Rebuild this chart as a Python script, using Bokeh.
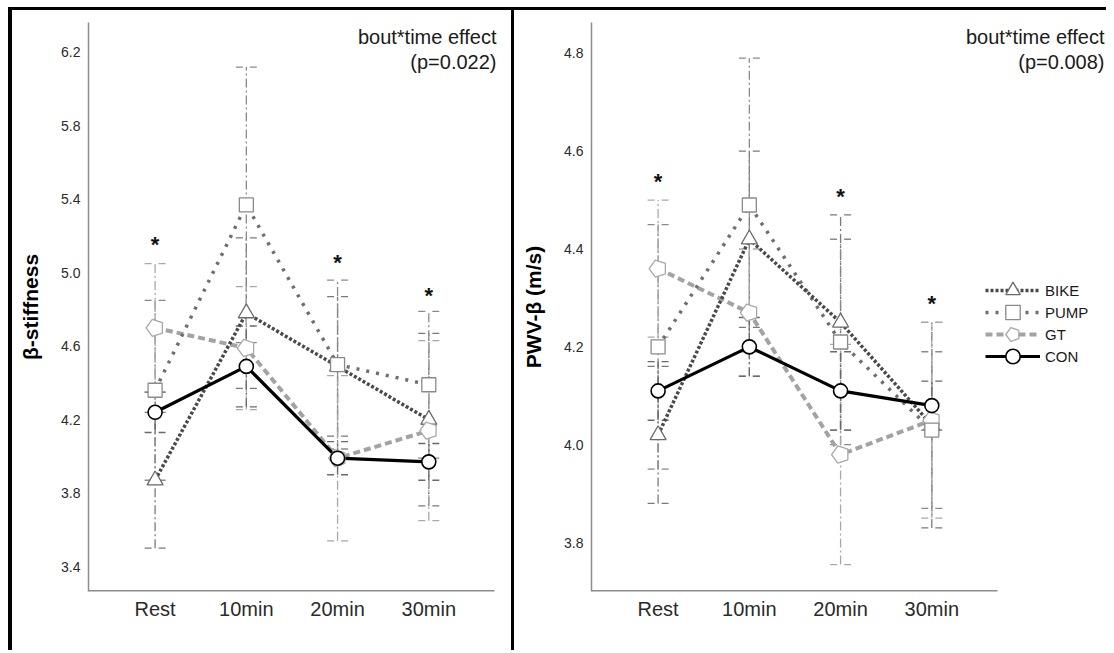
from bokeh.plotting import figure
from bokeh.models import (Range1d, FixedTicker, PrintfTickFormatter, Legend, LegendItem,
                          Label, ColumnDataSource, Ngon)
from bokeh.layouts import row
from bokeh.embed import file_html
from bokeh.resources import INLINE
from bokeh.core.properties import value

# ---------------- data ----------------
times = ["Rest", "10min", "20min", "30min"]
groups = ["BIKE", "PUMP", "GT", "CON"]

# beta-stiffness (means and error half-widths)
stiff_bike = [3.87, 4.78, 4.49, 4.20]
stiff_pump = [4.36, 5.37, 4.50, 4.39]
stiff_gt = [4.70, 4.59, 3.99, 4.14]
stiff_con = [4.24, 4.49, 3.99, 3.97]
stiff_bike_err = [0.37, 0.41, 0.38, 0.47]
stiff_pump_err = [0.49, 0.75, 0.46, 0.40]
stiff_gt_err = [0.35, 0.335, 0.45, 0.49]
stiff_con_err = [0.11, 0.22, 0.09, 0.10]
stiff_star = [5.16, None, 5.06, 4.88]
stiff_ticks = [3.4, 3.8, 4.2, 4.6, 5.0, 5.4, 5.8, 6.2]

# PWV-beta (m/s)
pwv_bike = [4.02, 4.42, 4.25, 4.04]
pwv_pump = [4.20, 4.49, 4.21, 4.03]
pwv_gt = [4.36, 4.27, 3.98, 4.05]
pwv_con = [4.11, 4.20, 4.11, 4.08]
pwv_bike_err = [0.14, 0.18, 0.22, 0.21]
pwv_pump_err = [0.25, 0.30, 0.21, 0.16]
pwv_gt_err = [0.14, 0.13, 0.225, 0.20]
pwv_con_err = [0.06, 0.06, 0.08, 0.05]
pwv_star = [4.54, None, 4.51, 4.29]
pwv_ticks = [3.8, 4.0, 4.2, 4.4, 4.6, 4.8]

FONT = "Liberation Sans"

STYLE = {
    "BIKE": dict(color="#4a4a4a", dash="3 2", width=3.5, marker="triangle", mcolor="#6a6a6a", msize=16, ecolor="#7a7a7a"),
    "PUMP": dict(color="#6e6e6e", dash="3 7", width=3.5, marker="square", mcolor="#8a8a8a", msize=14, ecolor="#8a8a8a"),
    "GT": dict(color="#a3a3a3", dash="7 4", width=4, marker="pentagon", mcolor="#a8a8a8", msize=9, ecolor="#a8a8a8"),
    "CON": dict(color="#000000", dash="solid", width=3.2, marker="circle", mcolor="#000000", msize=14, ecolor="#6a6a6a"),
}

X0, XAX = -0.73, 3.72      # x range start and end of the drawn x-axis line
AXIS_W = 406               # pixel length of the drawn x-axis
FIG_H = 640
LEGEND_ROW_PITCH = 22
LEGEND_BOTTOM = 283        # screen offset (from frame bottom) of the first legend row box


def make_panel(series, errs, stars, ticks, yr, ylabel, pval, width, bl, legend, txt_x, margin):
    frame_w = width - bl
    x_end = X0 + frame_w * (XAX - X0) / AXIS_W
    p = figure(width=width, height=FIG_H, output_backend="svg", toolbar_location=None,
               x_range=Range1d(X0, x_end), y_range=Range1d(*yr),
               min_border_left=bl, min_border_right=0, min_border_top=12,
               min_border_bottom=FIG_H - 12 - 569, margin=margin)
    p.outline_line_color = None
    p.xgrid.visible = False
    p.ygrid.visible = False
    p.background_fill_color = "white"
    p.border_fill_color = "white"

    xs = list(range(len(times)))
    cap = 0.115

    # x-axis line drawn only up to the last category area
    p.segment(x0=[X0], y0=[yr[0]], x1=[XAX], y1=[yr[0]], line_color="#8c8c8c", line_width=3)

    # error bars
    for g in groups:
        st = STYLE[g]
        m = series[g]
        e = errs[g]
        lo = [a - b for a, b in zip(m, e)]
        hi = [a + b for a, b in zip(m, e)]
        p.segment(x0=xs, y0=lo, x1=xs, y1=hi, line_color=st["ecolor"], line_width=1.3,
                  line_dash="9 3 2 3")
        for yy in (lo, hi):
            p.segment(x0=[x - cap for x in xs], y0=yy, x1=[x + cap for x in xs], y1=yy,
                      line_color=st["ecolor"], line_width=1.3, line_dash="7 7")

    lines = {}
    for g in ["GT", "PUMP", "BIKE", "CON"]:
        st = STYLE[g]
        lines[g] = p.line(xs, series[g], line_color=st["color"], line_width=st["width"],
                          line_dash=st["dash"])
    marks = {}
    for g in ["BIKE", "GT", "PUMP", "CON"]:
        st = STYLE[g]
        if st["marker"] == "pentagon":
            src = ColumnDataSource(dict(x=xs, y=series[g]))
            marks[g] = p.add_glyph(src, Ngon(x="x", y="y", radius=st["msize"], radius_units="screen",
                                             n=5, angle=1.5708, fill_color="white",
                                             line_color=st["mcolor"], line_width=1.3))
        else:
            marks[g] = p.scatter(xs, series[g], marker=st["marker"], size=st["msize"],
                                 fill_color="white", line_color=st["mcolor"],
                                 line_width=1.6 if g == "CON" else 1.3)

    sx = [i for i, s in enumerate(stars) if s is not None]
    sy = [s for s in stars if s is not None]
    p.text(sx, sy, text=["*"] * len(sx), text_font=value(FONT), text_font_size="22px",
           text_font_style="bold", text_align="center", text_baseline="middle", y_offset=1,
           text_color="#111111")

    # axes
    p.xaxis.ticker = FixedTicker(ticks=xs)
    p.xaxis.major_label_overrides = {i: t for i, t in enumerate(times)}
    p.yaxis.ticker = FixedTicker(ticks=ticks)
    p.yaxis.formatter = PrintfTickFormatter(format="%.1f")
    for ax in (p.xaxis[0], p.yaxis[0]):
        ax.axis_line_color = "#8c8c8c"
        ax.axis_line_width = 1.5
        ax.major_tick_line_color = None
        ax.minor_tick_line_color = None
        ax.major_tick_out = 0
        ax.major_tick_in = 0
        ax.minor_tick_out = 0
        ax.minor_tick_in = 0
        ax.major_label_text_font = FONT
        ax.major_label_text_color = "#2a2a2a"
    p.xaxis.axis_line_color = None
    p.xaxis.major_label_text_font_size = "20px"
    p.xaxis.major_label_standoff = 6
    p.yaxis.major_label_text_font_size = "14px"
    p.yaxis.major_label_standoff = 8
    p.yaxis.axis_label = ylabel
    p.yaxis.axis_label_text_font = FONT
    p.yaxis.axis_label_text_font_size = "21px"
    p.yaxis.axis_label_text_font_style = "bold"
    p.yaxis.axis_label_text_color = "black"
    p.yaxis.axis_label_standoff = 16

    p.add_layout(Label(x=txt_x, y=555, x_units="screen", y_units="screen", text="bout*time effect",
                       text_align="right", text_baseline="middle", text_font=FONT,
                       text_font_size="20px", text_color="#1a1a1a"))
    p.add_layout(Label(x=txt_x, y=530, x_units="screen", y_units="screen", text=pval,
                       text_align="right", text_baseline="middle", text_font=FONT,
                       text_font_size="20px", text_color="#1a1a1a"))

    if legend:
        for i, g in enumerate(groups):
            lg = Legend(items=[LegendItem(label=g, renderers=[lines[g], marks[g]])],
                        location=(394, LEGEND_BOTTOM - i * LEGEND_ROW_PITCH),
                        glyph_width=55, glyph_height=36, label_standoff=5, padding=0, margin=0,
                        border_line_color=None, background_fill_alpha=0,
                        label_text_font=FONT, label_text_font_size="15px",
                        label_text_color="#1a1a1a")
            p.add_layout(lg)
    return p


P1_W, P2_W = 499, 592

p1 = make_panel(
    {"BIKE": stiff_bike, "PUMP": stiff_pump, "GT": stiff_gt, "CON": stiff_con},
    {"BIKE": stiff_bike_err, "PUMP": stiff_pump_err, "GT": stiff_gt_err, "CON": stiff_con_err},
    stiff_star, stiff_ticks, (3.264, 6.363), "β-stiffness", "(p=0.022)", P1_W, 76, False, 408,
    (3, 0, 0, 4))

p2 = make_panel(
    {"BIKE": pwv_bike, "PUMP": pwv_pump, "GT": pwv_gt, "CON": pwv_con},
    {"BIKE": pwv_bike_err, "PUMP": pwv_pump_err, "GT": pwv_gt_err, "CON": pwv_con_err},
    pwv_star, pwv_ticks, (3.70, 4.863), "PWV-β (m/s)", "(p=0.008)", P2_W, 77, True, 513,
    (3, 0, 0, 3))

# black frame lines: top rule, left rule and the divider between the two panels
frame_bg = ("linear-gradient(#000,#000) 0 0 / 100% 3px no-repeat, "
            "linear-gradient(#000,#000) 0 0 / 4px 100% no-repeat, "
            f"linear-gradient(#000,#000) {4 + P1_W}px 0 / 3px 100% no-repeat, #ffffff")

layout = row(p1, p2, spacing=0, margin=(7, 0, 0, 8), styles={"background": frame_bg})

open("out.html", "w").write(file_html(layout, INLINE))
